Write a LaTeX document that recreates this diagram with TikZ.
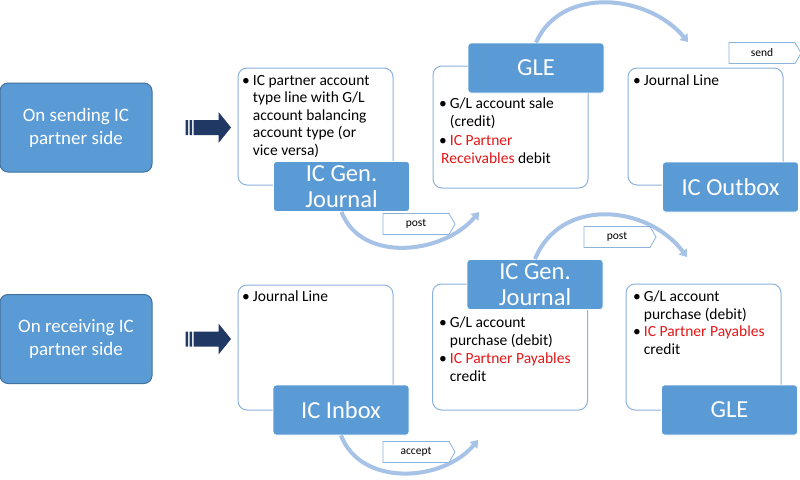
\documentclass[tikz,border=0pt]{standalone}
\usepackage{fontspec}
\setmainfont{Carlito}
\usetikzlibrary{shapes.symbols,arrows.meta}
\definecolor{boxblue}{RGB}{91,155,213}
\definecolor{boxedge}{RGB}{65,113,156}
\definecolor{panelline}{RGB}{140,178,222}
\definecolor{arcblue}{RGB}{166,194,230}
\definecolor{navy}{RGB}{31,56,100}
\definecolor{payred}{RGB}{228,22,22}
\newcommand{\bul}{\textbullet\hspace{3pt}}
\newcommand{\ind}{\phantom{\textbullet\hspace{3pt}}}
\begin{document}
\begin{tikzpicture}
[x=1pt,y=-1pt,
 sidedecorate/.style={shape=rectangle,rounded corners=8pt,fill=boxblue,draw=boxedge,line width=1pt,text=white,align=center,minimum width=152pt,minimum height=89pt,font=\fontsize{19}{23}\selectfont},%
 paneldecorate/.style={shape=rectangle,rounded corners=9pt,fill=white,draw=panelline,line width=1pt,minimum width=155pt},%
 tabdecorate/.style={shape=rectangle,rounded corners=3pt,fill=boxblue,draw=white,line width=0.8pt,text=white,align=center,minimum width=136pt,minimum height=50pt,font=\fontsize{24.5}{26}\selectfont},%
 tagdecorate/.style={shape=signal,signal to=east,signal pointer angle=120,fill=white,draw=panelline,line width=0.8pt,minimum width=72pt,minimum height=21pt,inner sep=0pt,font=\fontsize{11.5}{13}\selectfont},%
 textdecorate/.style={anchor=north west,inner sep=0pt,align=left,font=\fontsize{15.5}{17.5}\selectfont},%
 arcdecorate/.style={draw=arcblue,line width=4pt,-{Triangle[length=7pt,width=10pt]}}]
\useasboundingbox (0,0) rectangle (800,479);
\fill[white] (0,0) rectangle (800,479);
%% side boxes
\node (sending) at (76,127.5) [sidedecorate] {On sending IC\\partner side};
\node (receiving) at (76,339) [sidedecorate] {On receiving IC\\partner side};
%% thick arrows
\foreach \startnode in {sending,receiving}
{
  \path ([xshift=33pt]\startnode.east) coordinate (tail);
  \fill[navy] (tail) ++(0,-7.5) rectangle ++(2.5,15)
              (tail) ++(4,-7.5) rectangle ++(2.5,15)
              (tail) ++(8,-7.5) -- ++(25,0) -- ++(0,-8) -- ++(12.5,15.5)
              -- ++(-12.5,15.5) -- ++(0,-8) -- ++(-25,0) -- cycle;
}
%% panels
\foreach \nodename/\x/\y/\h in {sendjournal/315.5/126.5/117, sendgle/510.5/127/122,
 sendoutbox/705.5/126.5/117, recvinbox/315.5/347.5/125, recvjournal/510/347/126,
 recvgle/703.5/347/126}
{
  \node (\nodename) at (\x,\y) [paneldecorate,minimum height=\h pt] {};
}
%% tabs
\foreach \nodename/\x/\y/\label in {jgenone/341.5/186.5/IC Gen.\\Journal, gleone/536/68/GLE,
 outbox/730.5/187/IC Outbox, inbox/341/410/IC Inbox, jgentwo/535/284.5/IC Gen.\\Journal,
 gletwo/729.5/410/GLE}
{
  \node (\nodename) at (\x,\y) [tabdecorate] {\label};
}
%% curved arrows
\coordinate (postoneend) at (479,212);
\coordinate (sendend) at (688,42);
\coordinate (posttwoend) at (687,257);
\coordinate (acceptend) at (478,440);
\draw[arcdecorate] (jgenone.south) .. controls +(20,52) and +(-35,42) .. (postoneend);
\draw[arcdecorate] (gleone.north) .. controls +(25,-57) and +(-40,-48) .. (sendend);
\draw[arcdecorate] (jgentwo.north) .. controls +(25,-62) and +(-40,-53) .. (posttwoend);
\draw[arcdecorate] (inbox.south) .. controls +(20,52) and +(-35,42) .. (acceptend);
%% tags
\node (posttagone) at (416,224) [tagdecorate] {post};
\node (sendtag) at (762,53) [tagdecorate] {send};
\node (posttagtwo) at (617,237) [tagdecorate] {post};
\node (accepttag) at (416,452) [tagdecorate] {accept};
%% panel texts
\node (sendjournaltext) at (242,75) [textdecorate]
 {\bul IC partner account\\\ind type line with G/L\\\ind account balancing\\\ind account type (or\\\ind vice versa)};
\node (sendgletext) at (439,98) [textdecorate]
 {\bul G/L account sale\\\ind(credit)\\[2pt]\bul\textcolor{payred}{IC Partner}\\\hspace*{2pt}\textcolor{payred}{Receivables} debit};
\node (sendoutboxtext) at (633,75) [textdecorate] {\bul Journal Line};
\node (recvinboxtext) at (242,291) [textdecorate] {\bul Journal Line};
\node (recvjournaltext) at (439,317) [textdecorate]
 {\bul G/L account\\\ind purchase (debit)\\[1pt]\bul\textcolor{payred}{IC Partner Payables}\\\ind credit};
\node (recvgletext) at (633,291) [textdecorate]
 {\bul G/L account\\\ind purchase (debit)\\\bul\textcolor{payred}{IC Partner Payables}\\\ind credit};
\end{tikzpicture}
\end{document}
